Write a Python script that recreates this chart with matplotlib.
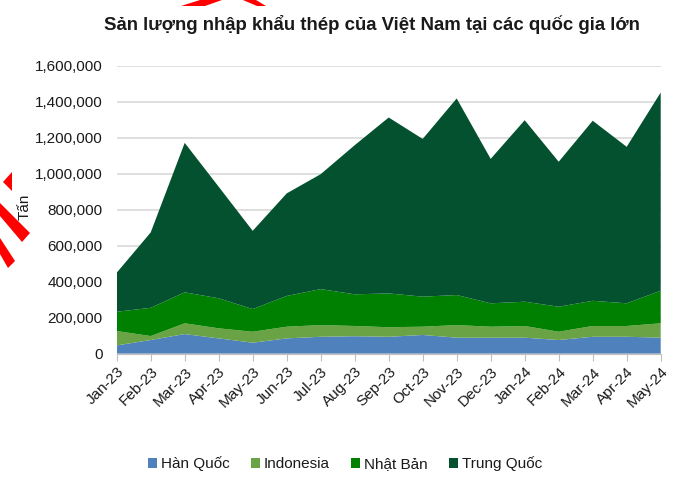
import matplotlib
matplotlib.use("Agg")
import matplotlib.pyplot as plt
from matplotlib.patches import Polygon, Patch

months = ["Jan-23", "Feb-23", "Mar-23", "Apr-23", "May-23", "Jun-23", "Jul-23", "Aug-23",
          "Sep-23", "Oct-23", "Nov-23", "Dec-23", "Jan-24", "Feb-24", "Mar-24", "Apr-24", "May-24"]
han_quoc = [45000, 75000, 108000, 84000, 60000, 84000, 93000, 96000, 93000, 103000, 88000,
            88000, 88000, 75000, 93000, 93000, 88000]
indonesia = [80000, 22000, 60000, 56000, 61000, 65000, 65000, 57000, 53000, 46000, 70000,
             61000, 65000, 46000, 60000, 60000, 80000]
nhat_ban = [107000, 157000, 172000, 167000, 126000, 171000, 200000, 176000, 188000, 167000,
            167000, 130000, 135000, 139000, 140000, 126000, 181000]
trung_quoc = [217000, 419000, 831000, 620000, 435000, 570000, 639000, 829000, 978000, 877000,
              1093000, 803000, 1009000, 806000, 1001000, 870000, 1102000]
series_names = ["Hàn Quốc", "Indonesia", "Nhật Bản", "Trung Quốc"]
colors = ["#4F81BD", "#6AA346", "#008000", "#03512F"]
yticks = [0, 200000, 400000, 600000, 800000, 1000000, 1200000, 1400000, 1600000]

plt.rcParams['font.family'] = ["Liberation Sans", "DejaVu Sans"]

W, H = 674, 479
fig = plt.figure(figsize=(W / 100, H / 100), dpi=100)
ax = fig.add_axes([116.7 / W, 1 - 353.5 / H, (660.7 - 116.7) / W, (353.5 - 65.7) / H])

x = list(range(len(months)))
ax.stackplot(x, han_quoc, indonesia, nhat_ban, trung_quoc, colors=colors,
             labels=series_names, linewidth=0, zorder=3)

ax.set_xlim(0, len(months) - 1)
ax.set_ylim(0, 1600000)
ax.set_yticks(yticks)
ax.set_yticklabels([f"{v:,}" for v in yticks])
ax.set_xticks(x)
ax.set_xticklabels(months, rotation=45, ha="right", rotation_mode="anchor")
ax.grid(axis="y", color="#D9D9D9", linewidth=1.2, zorder=0)
for s in ["top", "right", "left"]:
    ax.spines[s].set_visible(False)
ax.spines["bottom"].set_color("#BFBFBF")
ax.spines["bottom"].set_zorder(4)
ax.tick_params(axis="y", length=0, pad=10, labelsize=11, labelcolor="#1a1a1a")
ax.tick_params(axis="x", length=5, color="#BFBFBF", pad=3, labelsize=11, labelcolor="#1a1a1a")

fig.text(25 / W, 1 - 207 / H, "Tấn", rotation=90, ha="center", va="center",
         fontsize=11, color="#1a1a1a")

fig.text(372 / W, 1 - 24 / H, "Sản lượng nhập khẩu thép của Việt Nam tại các quốc gia lớn",
         ha="center", va="center", fontsize=13.4, fontweight="bold", color="#1a1a1a")

handles = [Patch(facecolor=c, edgecolor="none") for c in colors]
fig.legend(handles, series_names, loc="center", bbox_to_anchor=(345 / W, 1 - 464 / H),
           ncol=4, frameon=False, fontsize=11, handlelength=0.6, handleheight=0.6,
           handletextpad=0.25, columnspacing=1.4, labelcolor="#1a1a1a")

# red watermark fragments
red = "#FF0000"
polys = [
    [(181, 6), (200, 0), (222, 0), (205, 6)],
    [(243, 0), (256, 0), (266, 6), (257, 6)],
    [(3, 182), (12, 172), (12, 191)],
    [(0, 203), (0, 216), (22, 242), (30, 233)],
    [(0, 238), (0, 254), (8, 268), (15, 261)],
]
for p in polys:
    fig.patches.append(Polygon([(px / W, 1 - py / H) for px, py in p], closed=True,
                               transform=fig.transFigure, facecolor=red, edgecolor="none"))

fig.savefig("out.png", dpi=100)
